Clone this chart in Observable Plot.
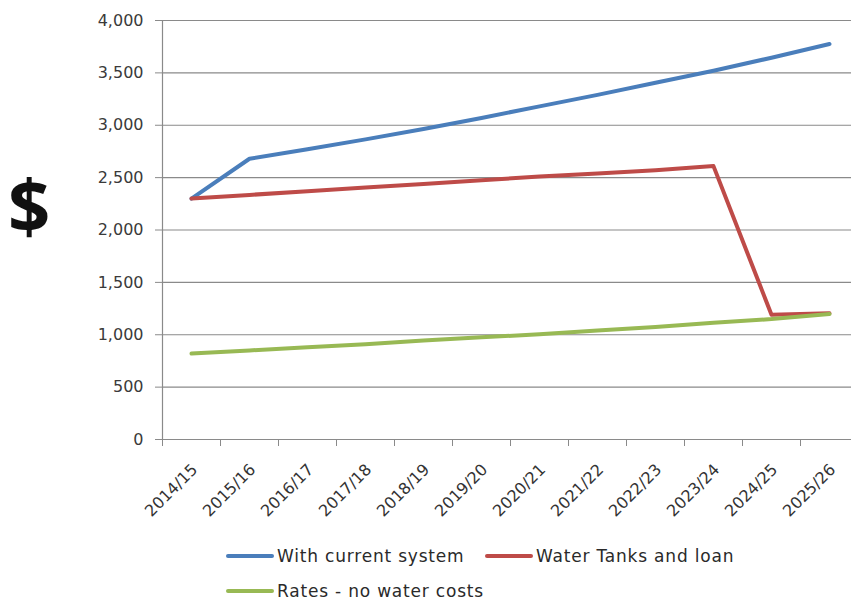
<!DOCTYPE html>
<html><head><meta charset="utf-8">
<script src="https://cdn.jsdelivr.net/npm/d3@7"></script>
<script src="https://cdn.jsdelivr.net/npm/@observablehq/plot@0.6"></script>
<style>
body{margin:0;background:#fff;font-family:"DejaVu Sans",sans-serif;}
#wrap{position:relative;width:851px;height:602px;overflow:hidden;background:#fff;}
#chart{position:absolute;left:0;top:0;}
#dollar{position:absolute;left:8px;top:168px;font-family:"Open Sans";font-weight:700;font-size:74px;line-height:1;color:#111;}
.leg{position:absolute;font-size:17px;line-height:18px;letter-spacing:0.8px;color:#2a2a2a;display:flex;align-items:center;height:18px;white-space:nowrap;}
.sw{width:48px;height:4px;margin-right:3px;border-radius:2px;}
</style></head><body>
<div id="wrap">
<div id="chart"></div>
<div id="dollar">$</div>
<div class="leg" style="left:226px;top:547px"><span class="sw" style="background:#4A7EBB"></span>With current system</div>
<div class="leg" style="left:485px;top:547px"><span class="sw" style="background:#BE4B48"></span>Water Tanks and loan</div>
<div class="leg" style="left:226px;top:582px"><span class="sw" style="background:#98B954"></span>Rates - no water costs</div>
</div>
<script>
const years = ["2014/15","2015/16","2016/17","2017/18","2018/19","2019/20","2020/21","2021/22","2022/23","2023/24","2024/25","2025/26"];
const withCurrentSystem = [2300, 2680, 2770, 2865, 2965, 3070, 3180, 3290, 3405, 3520, 3645, 3775];
const waterTanksAndLoan = [2300, 2335, 2370, 2405, 2440, 2475, 2510, 2540, 2570, 2610, 1190, 1205];
const ratesNoWaterCosts = [820, 850, 880, 910, 945, 975, 1005, 1040, 1075, 1115, 1150, 1198];
const yTicks = [0, 500, 1000, 1500, 2000, 2500, 3000, 3500, 4000];

const bounds = years.map((_, i) => i - 0.5).concat([years.length - 0.5]);
const toRows = arr => arr.map((v, i) => ({i, v}));

const chart = Plot.plot({
  width: 851, height: 540,
  marginLeft: 162, marginTop: 20, marginBottom: 101, marginRight: 0,
  x: {type: "linear", domain: [-0.5, years.length - 0.5], range: [162, 858]},
  y: {domain: [0, 4000], range: [439, 20]},
  style: {fontFamily: "DejaVu Sans", fontSize: "16px", color: "#3a3a3a", background: "white", overflow: "hidden"},
  marks: [
    Plot.ruleY(yTicks.filter(v => v > 0), {stroke: "#8a8a8a", strokeWidth: 1.2}),
    Plot.axisY({ticks: yTicks, tickSize: 7, tickPadding: 12, tickFormat: d3.format(","), stroke: "#8a8a8a", label: null}),
    Plot.axisX({ticks: bounds, tickSize: 7, tickFormat: () => "", stroke: "#8a8a8a", label: null}),
    Plot.ruleX([-0.5], {y1: 0, y2: 4000, stroke: "#8a8a8a", strokeWidth: 1.2}),
    Plot.ruleY([0], {stroke: "#8a8a8a", strokeWidth: 1.2}),
    Plot.text(years, {x: (d, i) => i, y: () => 0, text: d => d, rotate: -45, textAnchor: "end", lineAnchor: "bottom", dx: 7, dy: 31, fill: "#333"}),
    Plot.line(toRows(withCurrentSystem), {x: "i", y: "v", stroke: "#4A7EBB", strokeWidth: 4, strokeLinejoin: "round", strokeLinecap: "round"}),
    Plot.line(toRows(waterTanksAndLoan), {x: "i", y: "v", stroke: "#BE4B48", strokeWidth: 4, strokeLinejoin: "round", strokeLinecap: "round"}),
    Plot.line(toRows(ratesNoWaterCosts), {x: "i", y: "v", stroke: "#98B954", strokeWidth: 4, strokeLinejoin: "round", strokeLinecap: "round"})
  ]
});
document.getElementById("chart").appendChild(chart);
</script>
</body></html>
